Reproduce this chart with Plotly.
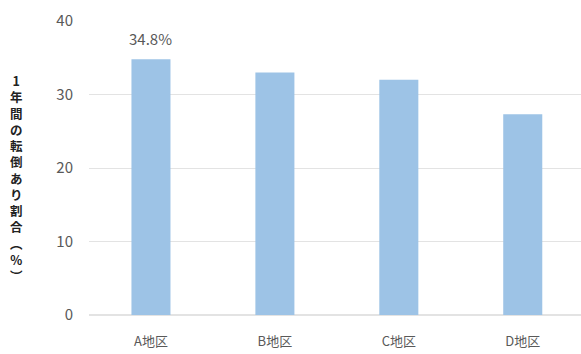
import plotly.graph_objects as go

categories = ["A地区", "B地区", "C地区", "D地区"]
values = [34.8, 33.0, 32.0, 27.3]
label_index = 0
label_text = "34.8%"
y_ticks = [0, 10, 20, 30, 40]
y_title = "1年間の転倒あり割合︵%︶"

FONT = "Noto Sans CJK JP, Meiryo, sans-serif"

fig = go.Figure()
fig.add_trace(go.Bar(
    x=categories, y=values, width=0.315,
    marker=dict(color="#9dc3e6", line=dict(width=0)),
))

fig.update_layout(
    width=581, height=354,
    margin=dict(l=89, r=0, t=21, b=39),
    paper_bgcolor="white", plot_bgcolor="white",
    showlegend=False,
    font=dict(family=FONT, color="#595959"),
    xaxis=dict(
        range=[-0.5, 3.47], showgrid=False, showline=False,
        tickfont=dict(size=13, color="#595959"),
        ticks="outside", ticklen=14, tickcolor="rgba(0,0,0,0)",
    ),
    yaxis=dict(
        range=[0, 40], tickvals=y_ticks, showline=False,
        gridcolor="#e3e3e3", gridwidth=1, zeroline=True, zerolinecolor="#e3e3e3",
        tickfont=dict(size=15, color="#595959"),
        ticks="outside", ticklen=12, tickcolor="rgba(0,0,0,0)",
    ),
)

fig.add_annotation(
    x=categories[label_index], y=values[label_index], text=label_text,
    yanchor="bottom", yshift=8, showarrow=False,
    font=dict(size=15, color="#595959", family=FONT),
)

fig.add_annotation(
    text="<b>" + "<br>".join(list(y_title)) + "</b>",
    xref="paper", yref="paper", x=-0.147, y=0.467,
    xanchor="center", yanchor="middle", showarrow=False,
    font=dict(size=12.5, color="#222222", family=FONT),
)

fig.write_html("out.html")
